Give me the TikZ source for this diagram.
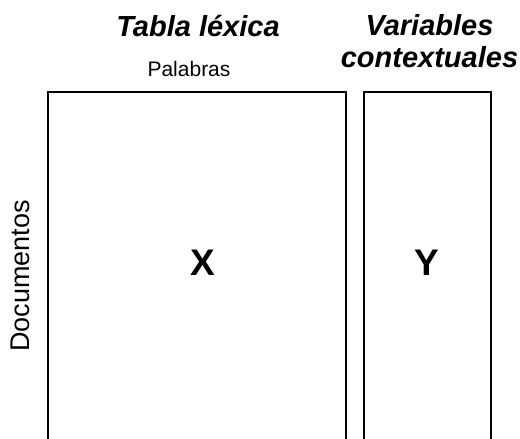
\documentclass[tikz,border=0pt]{standalone}
\usepackage{fontspec}
\setmainfont{Liberation Sans}
\usetikzlibrary{positioning}

\begin{document}
\begin{tikzpicture}[x=1pt, y=-1pt, line width=1.6pt,
  matriz/.style={rectangle, draw, inner sep=0pt, minimum height=352pt},
  letra/.style={inner sep=0pt, anchor=base, font=\fontsize{37}{40}\selectfont\bfseries},
  titulo/.style={inner sep=0pt, anchor=base, align=center, font=\fontsize{29}{31.5}\selectfont\bfseries\itshape},
  etiqueta/.style={inner sep=0pt, anchor=base, font=\fontsize{21}{24}\selectfont}]

  \useasboundingbox (0,0) rectangle (520,439);

  % las dos matrices, abiertas por debajo
  \node[matriz, minimum width=298pt] (matX) at (197,268) {};
  \node[matriz, minimum width=127pt] (matY) at (427.5,268) {};
  \node[letra] (X) at ([xshift=5.5pt, yshift=-7pt]matX.center) {X};
  \node[letra] (Y) at ([xshift=-0.5pt, yshift=-7pt]matY.center) {Y};

  % rotulos
  \node[etiqueta] (palabras) at ([xshift=-8pt, yshift=15pt]matX.north) {Palabras};
  \node[titulo] (tabla) at ([xshift=1pt, yshift=55pt]matX.north) {Tabla léxica};
  % el ancla base cae en la ultima linea
  \node[titulo] (variables) at ([xshift=2pt, yshift=24pt]matY.north) {Variables\\contextuales};
  \node[etiqueta, font=\fontsize{27}{30}\selectfont, rotate=90]
    (documentos) at ([xshift=-18pt, yshift=-8pt]matX.west) {Documentos};

\end{tikzpicture}
\end{document}
